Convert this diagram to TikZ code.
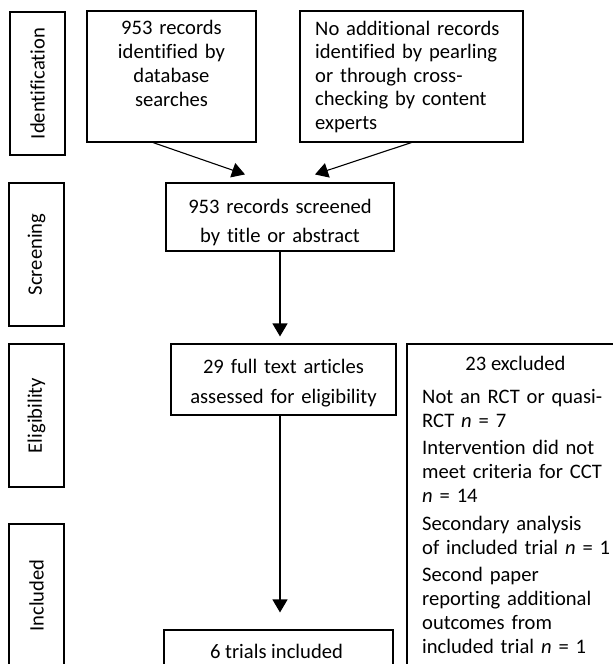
\documentclass[tikz,border=0pt]{standalone}
\usepackage{fontspec}
\setmainfont{Carlito}[Ligatures=NoCommon]
\usetikzlibrary{arrows.meta,calc}
\begin{document}
\begin{tikzpicture}[x=1pt,y=-1pt,
  box/.style={draw,line width=1.1pt,inner sep=0pt},
  txt/.style={inner sep=0pt,font=\fontsize{20.6}{24}\selectfont},
  arr/.style={line width=1.1pt,-{Triangle[length=13pt,width=15pt]}},
  lab/.style={box,rotate=90,minimum width=143pt,minimum height=55pt,font=\fontsize{20.6}{24}\selectfont}]
\useasboundingbox (0,0) rectangle (613,664);
\fill[white] (0,0) rectangle (613,664);
\clip (0,0) rectangle (613,664);
% stage labels
\node[lab] (idlab) at (37.5,83.5) {Identification};
\node[lab] (scrlab) at (36.5,254.5) {Screening};
\node[lab] (elilab) at (36.5,415.5) {Eligibility};
\node[lab] (inclab) at (36.5,595.5) {Included};
% boxes
\node[box,minimum width=169pt,minimum height=131pt] (b1) at (171.5,76.5) {};
\node[box,minimum width=223pt,minimum height=131pt] (b2) at (411.5,76.5) {};
\node[box,minimum width=228pt,minimum height=68pt] (scr) at (280,217) {};
\node[box,minimum width=225pt,minimum height=71pt] (eli) at (283.5,379.5) {};
\node[box,minimum width=223pt,minimum height=356pt] (exc) at (518.5,522) {};
\node[box,minimum width=229pt,minimum height=70pt] (inc) at (278.5,665) {};
% texts
\node[txt,text width=160pt,align=center,anchor=base] (t1) at (171.5,34)
  {953 records\\identified by\\database\\searches};
\node[txt,font=\fontsize{20.6}{23.5}\selectfont,text width=210pt,align=left,anchor=base west] (t2) at (315,35)
  {No additional records\\identified by pearling\\or through cross-\\checking by content\\experts};
\node[txt,font=\fontsize{20.6}{29}\selectfont,text width=225pt,align=center,anchor=base] (tscr) at (280,213)
  {953 records screened\\by title or abstract};
\node[txt,font=\fontsize{20.6}{30}\selectfont,text width=225pt,align=center,anchor=base] (teli) at (283.5,373)
  {29 full text articles\\assessed for eligibility};
\node[txt,anchor=base] (texh) at (515.5,370) {23 excluded};
\node[txt,text width=205pt,align=left,anchor=base west] (texl) at (422,403)
  {Not an RCT or quasi-\\RCT \textit{n} = 7\\[3.5pt]
   Intervention did not\\meet criteria for CCT\\\textit{n} = 14\\[3.5pt]
   Secondary analysis\\of included trial \textit{n} = 1\\[3.5pt]
   Second paper\\reporting additional\\outcomes from\\included trial \textit{n} = 1};
\node[txt,anchor=base] (tinc) at (276.5,658) {6 trials included};
% connectors
\draw[arr] ([xshift=-18.5pt]b1.south) -- ([xshift=-35pt,yshift=8pt]scr.north);
\draw[arr] (b2.south) -- ([xshift=35pt,yshift=8pt]scr.north);
\draw[arr] (scr.south) -- ($(scr.south |- eli.north)+(0,7pt)$);
\draw[arr] (eli.south -| scr.south) -- ($(scr.south |- inc.north)+(0,17pt)$);
\end{tikzpicture}
\end{document}
